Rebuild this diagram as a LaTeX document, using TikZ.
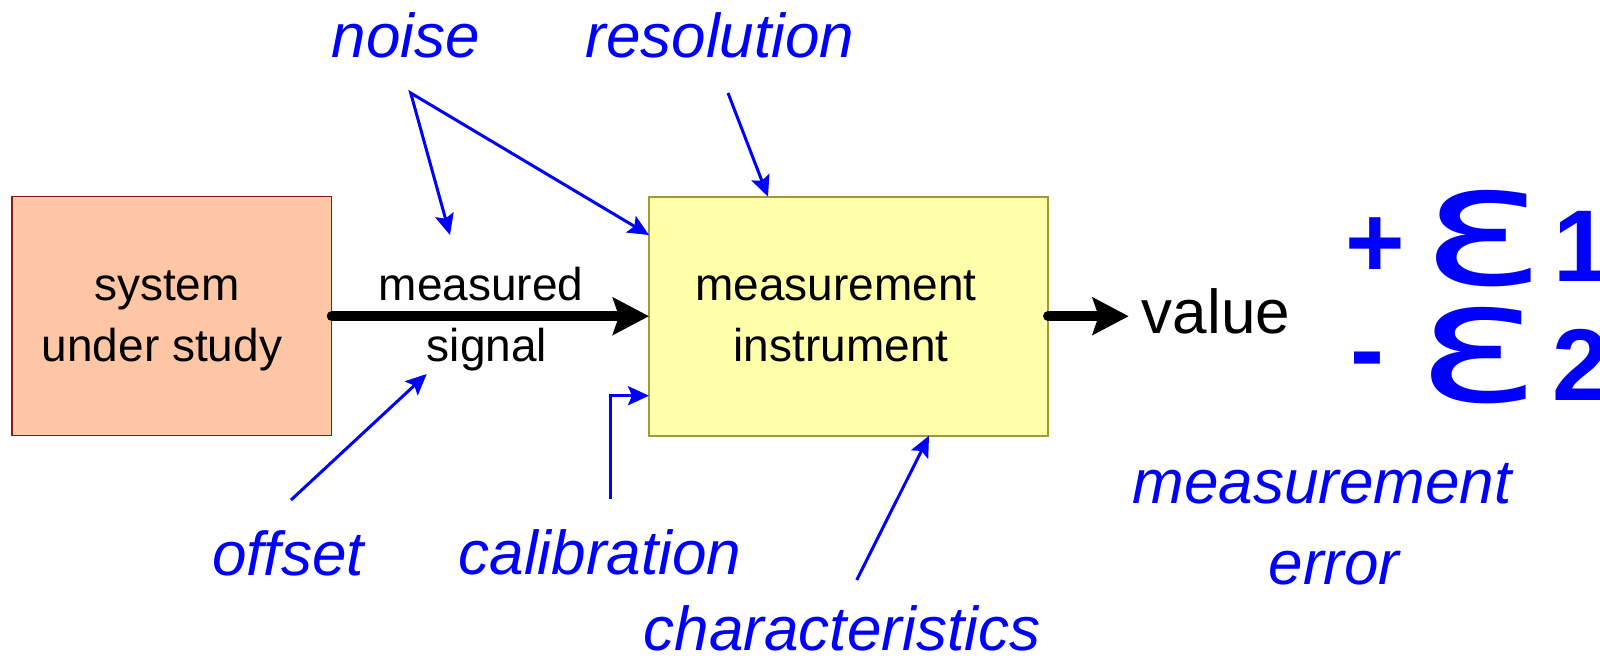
\documentclass[tikz,border=0pt]{standalone}
\usepackage{graphicx}
\usepackage{fontspec}
\setmainfont{Liberation Sans}
\newfontfamily\epsfont{DejaVu Sans}
\usetikzlibrary{arrows.meta,calc}
\definecolor{sysfill}{HTML}{FFC6A6}
\definecolor{sysborder}{HTML}{8B1A1A}
\definecolor{insfill}{HTML}{FFFFAA}
\definecolor{insborder}{HTML}{9C9C30}
\tikzset{
  bluehead/.tip={Stealth[length=21pt,width=19pt,inset=4pt]},
  blackhead/.tip={Stealth[length=36pt,width=37pt,inset=6pt]}
}
\begin{document}
\begin{tikzpicture}[x=1pt,y=-1pt,
  blk/.style={font=\fontsize{46}{54}\selectfont, text=black, inner sep=0pt, anchor=base},
  lbl/.style={font=\fontsize{62}{72}\selectfont\itshape, text=blue, inner sep=0pt, anchor=base},
  bigsym/.style={font=\fontsize{102}{120}\selectfont\bfseries, text=blue, inner sep=0pt, anchor=base},
  epsym/.style={font=\epsfont\fontsize{168}{190}\selectfont, text=blue, inner sep=0pt, anchor=base},
  sysbox/.style={draw=sysborder, fill=sysfill, line width=1.5pt, minimum width=319.7pt, minimum height=239pt, inner sep=0pt, outer sep=0pt},
  insbox/.style={draw=insborder, fill=insfill, line width=1.8pt, minimum width=399pt, minimum height=239pt, inner sep=0pt, outer sep=0pt},
  bigarrow/.style={line width=10pt, line cap=round, -blackhead},
  bluearrow/.style={draw=blue, line width=3pt, -bluehead}
]
\useasboundingbox (0,0) rectangle (1600,662);

% boxes
\node[sysbox] (sys) at (171.85,316.2) {};
\node[insbox] (ins) at (848.5,316.2) {};

% box texts
\node[blk] (sys1) at (167,300.7) {system};
\node[blk] (sys2) at (162,361.7) {under study};
\node[blk] (ins1) at (836,300.7) {measurement};
\node[blk] (ins2) at (841,361.7) {instrument};
\node[blk] (sig1) at (481,300.7) {measured};
\node[blk] (sig2) at (487,361.7) {signal};
\node[font=\fontsize{62}{72}\selectfont, inner xsep=13pt, inner ysep=0pt, anchor=base] (val) at (1216,333.3) {value};

% blue labels
\node[lbl] (noise) at (406,57) {noise};
\node[lbl] (resol) at (720,57) {resolution};
\node[lbl] (offs) at (288,575) {offset};
\node[lbl] (calib) at (600,574) {calibration};
\node[lbl] (charac) at (842,650) {characteristics};
\node[lbl] (merr1) at (1322,503) {measurement};
\node[lbl] (merr2) at (1334,584) {error};

% error symbols
\node[bigsym] (plus) at (1375,277) {+};
\node[epsym] (eps1) at (1484,284) {\scalebox{1.38}[1]{ε}};
\node[bigsym] (one) at (1582,281.7) {1};
\node[bigsym] (minus) at (1367,384) {-};
\node[epsym] (eps2) at (1479,401) {\scalebox{1.38}[1]{ε}};
\node[bigsym] (two) at (1581,400) {2};

% connector end points
\coordinate (nzapex) at (410.7,93);
\coordinate (nztip) at (450,235);
\coordinate (resstart) at (728,93);
\coordinate (offstart) at (291,500);
\coordinate (offtip) at (426.7,374);
\coordinate (calstart) at (610,499);
\coordinate (chastart) at (856.7,580);

% black arrows
\draw[bigarrow] (sys.east) -- (ins.west);
\draw[bigarrow] (ins.east) -- (ins.east -| val.west);

% blue arrows
\draw[draw=blue, line width=3pt, bluehead-bluehead] (nztip) -- (nzapex) -- ([yshift=-38.3pt]ins.north west);
\draw[bluearrow] (resstart) -- ([xshift=-80.5pt]ins.north);
\draw[bluearrow] (offstart) -- (offtip);
\draw[bluearrow] (calstart) |- ([yshift=40pt]ins.south west);
\draw[bluearrow] (chastart) -- ([xshift=80.5pt]ins.south);
\end{tikzpicture}
\end{document}
